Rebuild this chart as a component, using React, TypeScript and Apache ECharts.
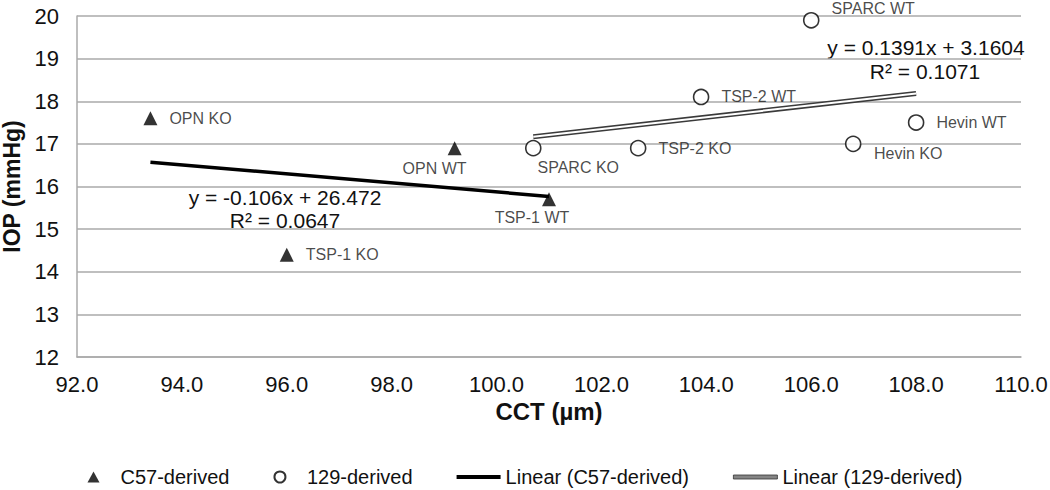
import React, { useEffect, useRef } from "react";
import * as echarts from "echarts";

// ---- Data ----
const c57Names = ["OPN KO", "OPN WT", "TSP-1 WT", "TSP-1 KO"];
const c57CCT = [93.4, 99.2, 101.0, 96.0];
const c57IOP = [17.6, 16.9, 15.7, 14.4];

const s129Names = ["SPARC KO", "TSP-2 KO", "TSP-2 WT", "SPARC WT", "Hevin KO", "Hevin WT"];
const s129CCT = [100.7, 102.7, 103.9, 106.0, 106.8, 108.0];
const s129IOP = [16.9, 16.9, 18.1, 19.9, 17.0, 17.5];

// Excel linear trendline equations shown on the chart
const c57Slope = -0.106;
const c57Intercept = 26.472;
const c57R2 = "0.0647";
const s129Slope = 0.1391;
const s129Intercept = 3.1604;
const s129R2 = "0.1071";

// Axis
const xMin = 92, xMax = 110, xStep = 2;
const yMin = 12, yMax = 20, yStep = 1;

const seriesNames = ["C57-derived", "129-derived", "Linear (C57-derived)", "Linear (129-derived)"];

// ---- Styling (label placement per point) ----
const labelPlacement: Record<string, any> = {
  "OPN KO": { position: "right", distance: 12 },
  "OPN WT": { position: "inside", offset: [-20, 20] },
  "TSP-1 WT": { position: "inside", offset: [-17, 18] },
  "TSP-1 KO": { position: "right", distance: 12 },
  "SPARC KO": { position: "inside", offset: [45, 19] },
  "TSP-2 KO": { position: "right", distance: 12 },
  "TSP-2 WT": { position: "right", distance: 12 },
  "SPARC WT": { position: "inside", offset: [62, -12] },
  "Hevin KO": { position: "inside", offset: [55, 10] },
  "Hevin WT": { position: "right", distance: 12 },
};

const FONT = "'Liberation Sans', Arial, sans-serif";
const BAR_ICON = "path://M0,0 L44,0 L44,4 L0,4 Z";
const TRI_ICON = "path://M6,0 L12,11 L0,11 Z";

function trend(xs: number[], slope: number, intercept: number) {
  const lo = Math.min(...xs);
  const hi = Math.max(...xs);
  return [
    [lo, slope * lo + intercept],
    [hi, slope * hi + intercept],
  ];
}

function points(names: string[], xs: number[], ys: number[]) {
  return names.map((n, i) => ({
    name: n,
    value: [xs[i], ys[i]],
    label: { show: true, formatter: "{b}", ...labelPlacement[n] },
  }));
}

export default function App() {
  const ref = useRef<HTMLDivElement>(null);
  useEffect(() => {
    if (!ref.current) return;
    const chart = echarts.init(ref.current, undefined, { renderer: "svg" });
    const labelStyle = { fontFamily: FONT, fontSize: 16, color: "#1a1a1a" };
    const eq = (text: string, x: number, y: number) => ({
      type: "text",
      x,
      y,
      style: {
        text,
        font: `21px ${FONT}`,
        fill: "#111",
        align: "center",
        verticalAlign: "middle",
      },
    });
    const option: any = {
      animation: false,
      backgroundColor: "#ffffff",
      grid: { left: 77, right: 29, top: 16, bottom: 133, containLabel: false, outerBoundsMode: "none" },
      xAxis: {
        type: "value",
        min: xMin,
        max: xMax,
        interval: xStep,
        name: "CCT (µm)",
        nameLocation: "middle",
        nameGap: 42,
        nameTextStyle: { fontFamily: FONT, fontSize: 24, fontWeight: "bold", color: "#111" },
        axisLine: { show: true, lineStyle: { color: "#aaaaaa", width: 1.5 } },
        axisTick: { show: false },
        splitLine: { show: false },
        axisLabel: {
          fontFamily: FONT,
          fontSize: 22,
          color: "#111",
          margin: 16,
          formatter: (v: number) => v.toFixed(1),
        },
      },
      yAxis: {
        type: "value",
        min: yMin,
        max: yMax,
        interval: yStep,
        name: "IOP (mmHg)",
        nameLocation: "middle",
        nameGap: 45,
        nameTextStyle: { fontFamily: FONT, fontSize: 23, fontWeight: "bold", color: "#111" },
        axisLine: { show: true, lineStyle: { color: "#aaaaaa", width: 1.5 } },
        axisTick: { show: false },
        splitLine: { show: true, lineStyle: { color: "#aaaaaa", width: 1.5 } },
        axisLabel: { fontFamily: FONT, fontSize: 22, color: "#111", margin: 18 },
      },
      legend: {
        left: "center",
        top: 462,
        itemWidth: 44,
        itemHeight: 11,
        itemGap: 44,
        symbolKeepAspect: true,
        textStyle: { fontFamily: FONT, fontSize: 20, color: "#111" },
        data: [
          { name: seriesNames[0], icon: TRI_ICON, itemStyle: { color: "#000" } },
          { name: seriesNames[1], icon: "circle" },
          { name: seriesNames[2], icon: BAR_ICON, itemStyle: { color: "#000" } },
          {
            name: seriesNames[3],
            icon: BAR_ICON,
            itemStyle: { color: "#858585", borderColor: "#333", borderWidth: 0.8 },
          },
        ],
      },
      series: [
        {
          name: seriesNames[0],
          type: "scatter",
          symbol: "triangle",
          symbolSize: 14,
          symbolKeepAspect: true,
          itemStyle: { color: "#000" },
          label: labelStyle,
          data: points(c57Names, c57CCT, c57IOP),
          z: 3,
        },
        {
          name: seriesNames[1],
          type: "scatter",
          symbol: "circle",
          symbolSize: 15,
          symbolKeepAspect: true,
          itemStyle: { color: "#fff", borderColor: "#000", borderWidth: 1.6 },
          label: labelStyle,
          data: points(s129Names, s129CCT, s129IOP),
          z: 3,
        },
        {
          name: seriesNames[2],
          type: "line",
          symbol: "none",
          lineStyle: { color: "#000", width: 3.5 },
          itemStyle: { color: "#000" },
          data: trend(c57CCT, c57Slope, c57Intercept),
          z: 4,
        },
        {
          name: seriesNames[3],
          type: "line",
          symbol: "none",
          lineStyle: { color: "#3a3a3a", width: 5 },
          itemStyle: { color: "#3a3a3a" },
          data: trend(s129CCT, s129Slope, s129Intercept),
          z: 4,
        },
        {
          name: "trend129-inner",
          type: "line",
          symbol: "none",
          lineStyle: { color: "#ffffff", width: 2 },
          itemStyle: { color: "#ffffff" },
          data: trend(s129CCT, s129Slope, s129Intercept),
          z: 5,
          silent: true,
        },
      ],
      graphic: [
        eq(`y = ${c57Slope}x + ${c57Intercept}`, 285, 197),
        eq(`R² = ${c57R2}`, 285, 220),
        eq(`y = ${s129Slope}x + ${s129Intercept}`, 926, 47),
        eq(`R² = ${s129R2}`, 925, 71),
      ],
    };
    chart.setOption(option);
    return () => chart.dispose();
  }, []);
  return <div ref={ref} style={{ width: 1050, height: 490, position: "absolute", left: 0, top: 0 }} />;
}
